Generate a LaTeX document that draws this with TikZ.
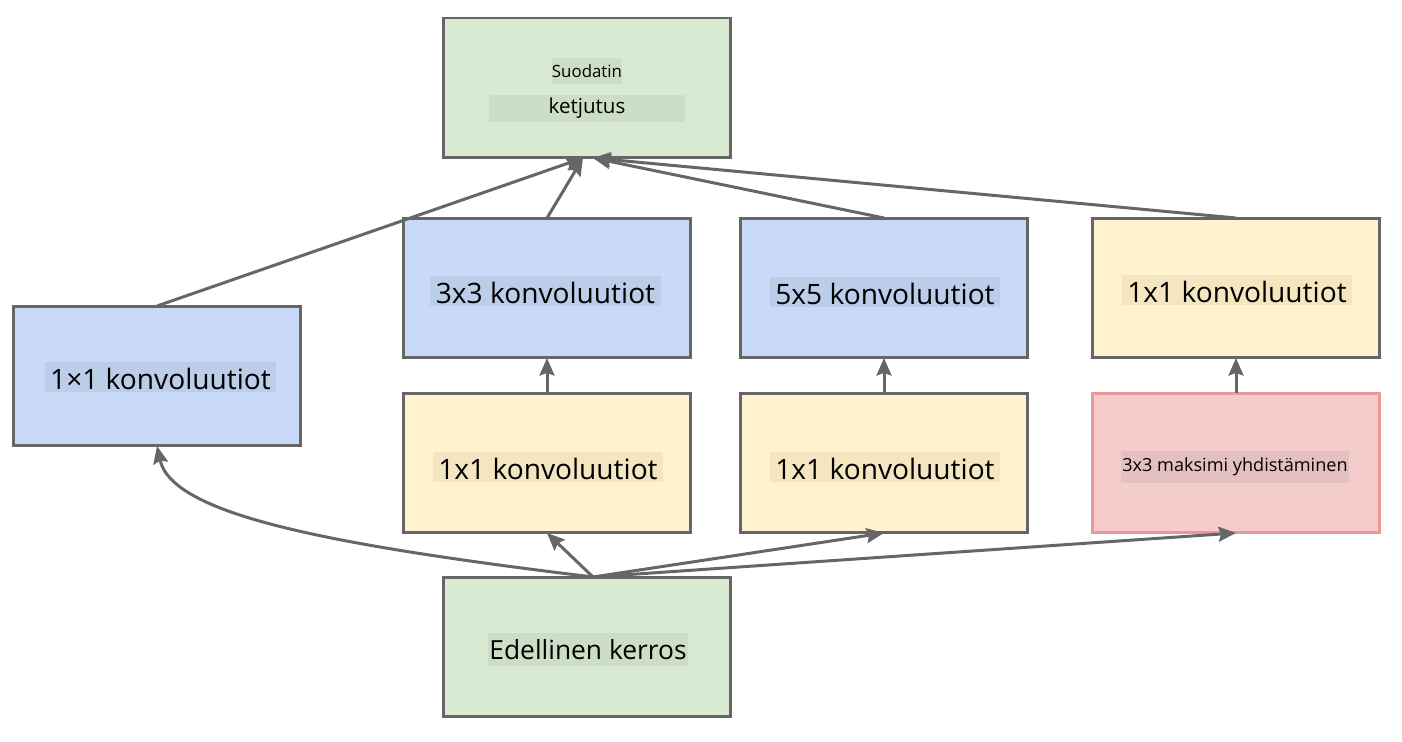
\documentclass[tikz,border=0pt]{standalone}
\usepackage{fontspec}
\setmainfont{Open Sans}
\usetikzlibrary{arrows.meta}

\definecolor{linegray}{HTML}{666666}
\definecolor{grn}{HTML}{D9EAD3}
\definecolor{grntxt}{HTML}{CDDEC7}
\definecolor{blu}{HTML}{C9DAF8}
\definecolor{blutxt}{HTML}{BCCDEA}
\definecolor{ylw}{HTML}{FFF2CC}
\definecolor{ylwtxt}{HTML}{F3E6C1}
\definecolor{rd}{HTML}{F4CCCC}
\definecolor{rdtxt}{HTML}{E5C0C0}
\definecolor{rdline}{HTML}{EA9999}

\begin{document}
\begin{tikzpicture}
  [x=0.02cm,y=-0.02cm,
   box/.style={rectangle,draw=linegray,line width=1.7pt,minimum width=5.76cm,
     minimum height=2.8cm,inner sep=0pt,outer sep=0pt},
   lbl/.style={rectangle,inner xsep=0pt,inner ysep=0.5pt,text height=15pt,
     text depth=1pt,minimum width=4.62cm,font=\fontsize{16}{18}\selectfont},
   arr/.style={draw=linegray,line width=1.7pt,
     -{Stealth[length=10pt,width=8.5pt,inset=1.5pt]}}]
  \useasboundingbox (0,0) rectangle (1402,742);

  % boxes
  \node[box,fill=grn] (concat) at (587,88) {};
  \node[box,fill=blu] (conv1)  at (157,376) {};
  \node[box,fill=blu] (conv3)  at (547,288) {};
  \node[box,fill=blu] (conv5)  at (884,288) {};
  \node[box,fill=ylw] (proj)   at (1236,288) {};
  \node[box,fill=ylw] (red3)   at (547,463) {};
  \node[box,fill=ylw] (red5)   at (884,463) {};
  \node[box,fill=rd,draw=rdline] (pool) at (1236,463) {};
  \node[box,fill=grn] (prev)   at (587,647) {};

  % texts
  \node[lbl,fill=grntxt,minimum width=1.4cm,text height=,text depth=,
    minimum height=0.52cm,font=\fontsize{9.6}{11}\selectfont] (tSuod) at (587,71) {Suodatin};
  \node[lbl,fill=grntxt,minimum width=3.92cm,text height=,text depth=,
    minimum height=0.54cm,font=\fontsize{11.7}{13}\selectfont] (tKetj) at (587,108.5) {ketjutus};
  \node[lbl,fill=blutxt] (tConv1) at (160.5,377) {1×1 konvoluutiot};
  \node[lbl,fill=blutxt] (tConv3) at (545.5,291) {3x3 konvoluutiot};
  \node[lbl,fill=blutxt] (tConv5) at (885,292) {5x5 konvoluutiot};
  \node[lbl,fill=ylwtxt] (tProj)  at (1237,290) {1x1 konvoluutiot};
  \node[lbl,fill=ylwtxt] (tRed3)  at (548,467) {1x1 konvoluutiot};
  \node[lbl,fill=ylwtxt] (tRed5)  at (885,467) {1x1 konvoluutiot};
  \node[lbl,fill=rdtxt,minimum width=4.56cm,text height=,text depth=,
    minimum height=0.64cm,font=\fontsize{10.3}{12}\selectfont] (tPool) at (1235,467) {3x3 maksimi yhdistäminen};
  \node[lbl,fill=grntxt,minimum width=4cm,text height=14.5pt,text depth=3pt,
    font=\fontsize{15}{17}\selectfont] (tPrev) at (588,649.5) {Edellinen kerros};

  \coordinate (split) at (593,577);
  \coordinate (inL) at (583,158);
  \coordinate (inR) at (593,158);

  % connectors
  \foreach \from/\to in {split/red3.south,split/red5.south,split/pool.south,
      red3.north/conv3.south,red5.north/conv5.south,pool.north/proj.south,
      conv1.north/inL,conv3.north/inL,conv5.north/inR,proj.north/inR}
    \draw[arr] (\from) -- (\to);
  \draw[arr] (split) .. controls (330,545) and (172,515) .. (conv1.south);

\end{tikzpicture}
\end{document}
